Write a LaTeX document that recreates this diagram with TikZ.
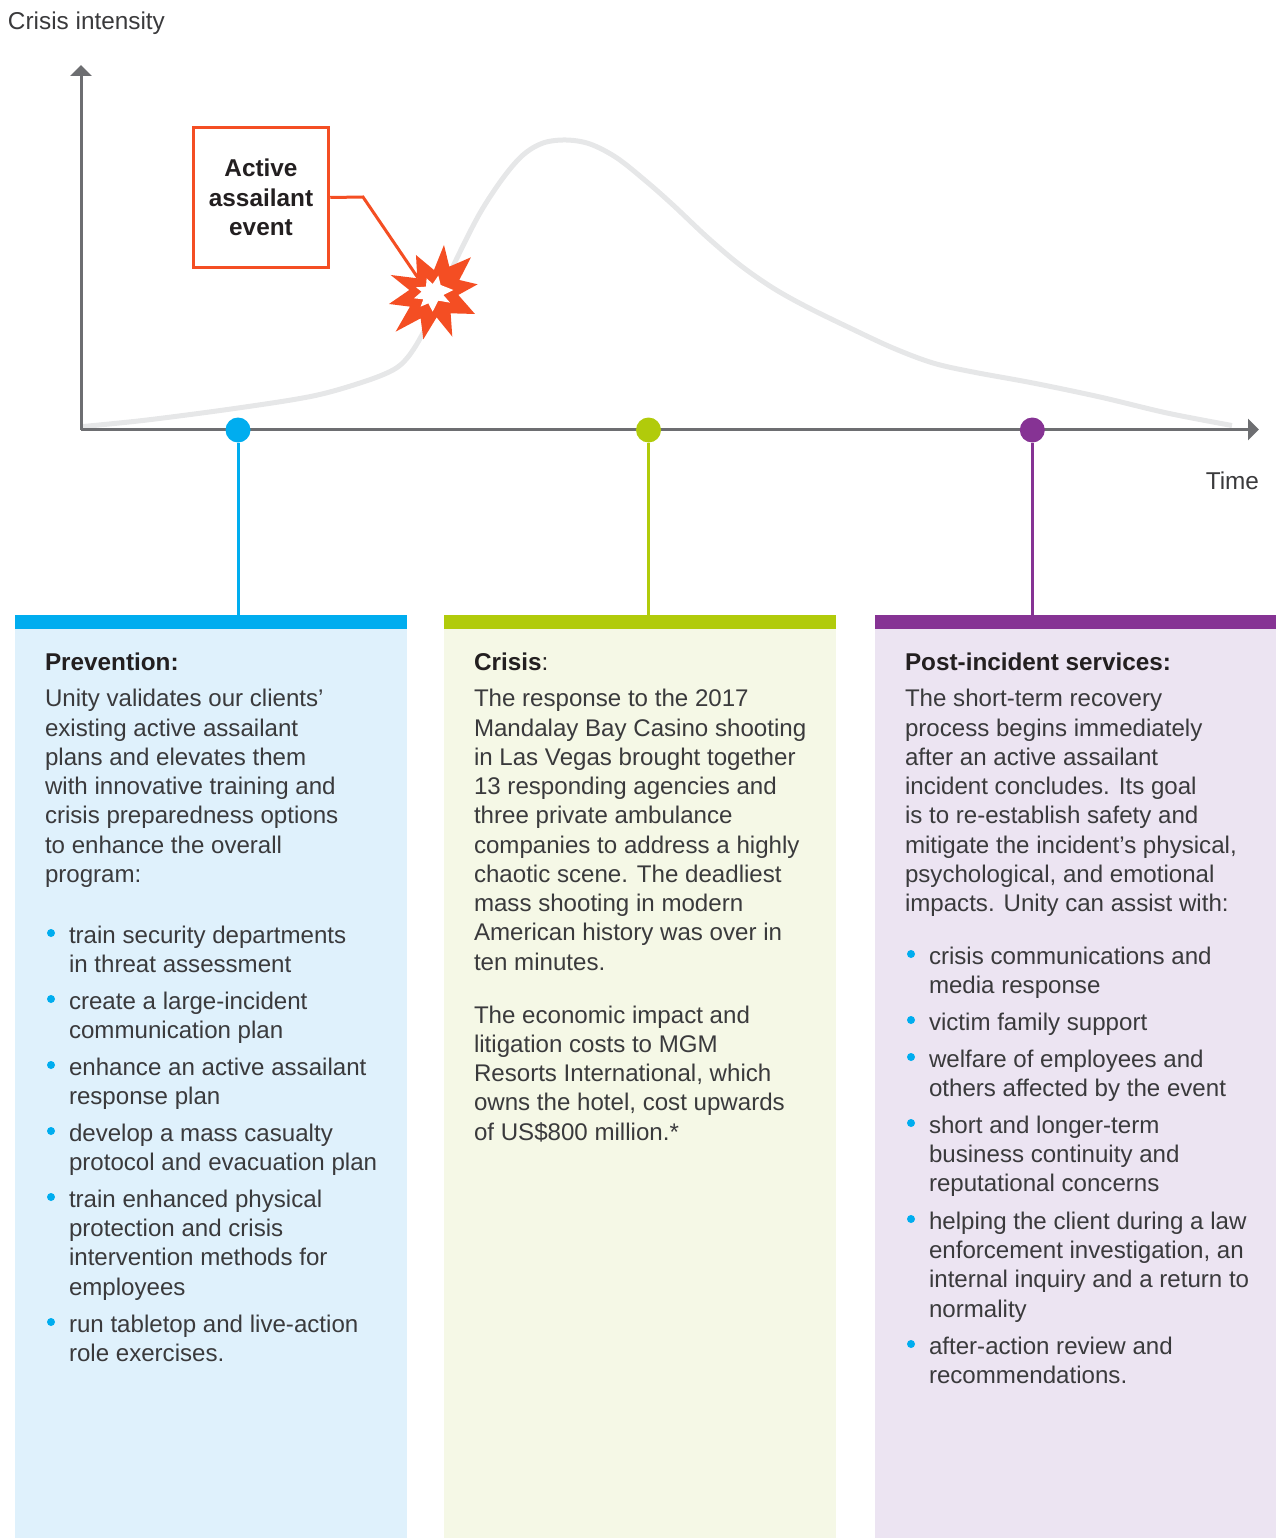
\documentclass[tikz,border=0pt]{standalone}
\usepackage{fontspec}
\setmainfont{Liberation Sans}[Scale=1.0]
\usetikzlibrary{arrows.meta}
\definecolor{cyanc}{HTML}{00ADEF}
\definecolor{greenc}{HTML}{B1CB0B}
\definecolor{purplec}{HTML}{863394}
\definecolor{cyanbg}{HTML}{DFF1FC}
\definecolor{greenbg}{HTML}{F5F8E6}
\definecolor{purplebg}{HTML}{ECE4F2}
\definecolor{orangec}{HTML}{F44E23}
\definecolor{axisc}{HTML}{6D6E71}
\definecolor{curvec}{HTML}{E6E7E8}
\definecolor{bodyc}{HTML}{3A3A3C}
\definecolor{headc}{HTML}{231F20}
\tikzset{
  axisline/.style={draw=axisc,line width=3pt,-{Triangle[length=11pt,width=21pt]}},
  panelbg/.style={inner sep=0pt,outer sep=0pt,anchor=north west,minimum height=910pt},
  panelbar/.style={inner sep=0pt,outer sep=0pt,anchor=north west,minimum height=13.5pt},
  dotmark/.style={circle,inner sep=0pt,outer sep=0pt,minimum size=25pt},
  stem/.style={line width=3pt},
  textblock/.style={inner sep=0pt,outer sep=0pt,anchor=base west,text=bodyc,font=\fontsize{24.1pt}{29.25pt}\selectfont},
  headblock/.style={inner sep=0pt,outer sep=0pt,anchor=base west,text=headc,font=\fontsize{24.3pt}{29.25pt}\selectfont\bfseries},
  bulletmark/.style={circle,fill=cyanc,inner sep=0pt,outer sep=0pt,minimum size=8pt},
  axislabel/.style={inner sep=0pt,outer sep=0pt,text=bodyc,font=\fontsize{24.35pt}{29pt}\selectfont},
}
\newcommand{\textlines}[4]{\node[textblock] (#1) at (#2,#3) {\begin{tabular}[t]{@{}l@{}}#4\end{tabular}};}
\newcommand{\bulletitem}[4]{\node[bulletmark] at (#1-18,#2-10) {};\node[textblock] (#3) at (#1,#2+0.4) {\begin{tabular}[t]{@{}l@{}}#4\end{tabular}};}
\begin{document}
\begin{tikzpicture}[x=1pt,y=-1pt]
\useasboundingbox (0,0) rectangle (1276,1538);
% panels
\node[panelbg,fill=cyanbg,minimum width=392pt] (p1) at (15,628) {};
\node[panelbg,fill=greenbg,minimum width=392pt] (p2) at (444,628) {};
\node[panelbg,fill=purplebg,minimum width=401pt] (p3) at (875,628) {};
\node[panelbar,fill=cyanc,minimum width=392pt] (b1) at (15,615) {};
\node[panelbar,fill=greenc,minimum width=392pt] (b2) at (444,615) {};
\node[panelbar,fill=purplec,minimum width=401pt] (b3) at (875,615) {};
% curve
\draw[curvec,line width=5pt] plot[smooth,tension=0.55] coordinates {(83,426.5) (147,420) (238,408) (313,396) (363,382) (393,370) (408,357) (423,333) (440,295) (457,258) (480,213) (503,178) (523,155) (543,143) (566,140) (590,144) (617,158) (647,182) (673,205) (707,237) (740,265) (773,288) (807,307) (850,328) (893,348) (933,363) (973,372) (1033,383) (1100,397) (1167,413) (1232,425.5)};
% axes
\coordinate (origin) at (81,429.5);
\coordinate (ytip) at (81,65);
\coordinate (xtip) at (1259,429.5);
\draw[axisline] (origin) -- (ytip);
\draw[axisline] (origin) -- (xtip);
\node[axislabel,anchor=base west] (ylab) at (8,29.5) {Crisis intensity};
\node[axislabel,anchor=base east] (xlab) at (1259,489) {Time};
% dots + stems
\node[dotmark,fill=cyanc] (d1) at (238,430) {};
\node[dotmark,fill=greenc] (d2) at (648.5,430) {};
\node[dotmark,fill=purplec] (d3) at (1032.3,430) {};
\draw[stem,cyanc] (d1) -- (d1|-b1.north);
\draw[stem,greenc] (d2) -- (d2|-b2.north);
\draw[stem,purplec] (d3) -- (d3|-b3.north);
% event box
\node[draw=orangec,line width=3pt,fill=white,minimum width=135.5pt,minimum height=140.5pt,inner sep=0pt,align=center,text=headc,font=\fontsize{24.35pt}{29.5pt}\selectfont\bfseries] (ev) at (261,197.5) {Active\\assailant\\event};
\coordinate (kink) at (363,197);
\coordinate (hit) at (418,278);
\draw[orangec,line width=3pt] (ev.east) -- (kink) -- (hit);
% burst
\begin{scope}[shift={(180,110)},x=0.3333pt,y=-0.3333pt]
\fill[orangec] (792,405)--(808,470)--(873,442)--(838,510)--(893,523)--(835,555)--(885,612)--(812,610)--(817,680)--(770,622)--(730,688)--(722,625)--(647,665)--(690,590)--(627,582)--(688,540)--(632,495)--(712,505)--(708,435)--(762,480)--cycle;
\fill[white] (775,497)--(782,525)--(820,540)--(790,555)--(810,578)--(775,572)--(758,605)--(745,580)--(722,590)--(730,568)--(702,565)--(725,545)--(708,532)--(738,530)--(740,505)--(758,522)--cycle;
\end{scope}
% column 1
\node[headblock] (h1) at (45,670) {Prevention:};
\textlines{t1}{45}{706.8}{Unity validates our clients’\\existing active assailant\\plans and elevates them\\with innovative training and\\crisis preparedness options\\to enhance the overall\\program:}
\bulletitem{69}{943}{a1}{train security departments\\in threat assessment}
\bulletitem{69}{1009}{a2}{create a large-incident\\communication plan}
\bulletitem{69}{1075}{a3}{enhance an active assailant\\response plan}
\bulletitem{69}{1141}{a4}{develop a mass casualty\\protocol and evacuation plan}
\bulletitem{69}{1207}{a5}{train enhanced physical\\protection and crisis\\intervention methods for\\employees}
\bulletitem{69}{1332}{a6}{run tabletop and live-action\\role exercises.}
% column 2
\node[headblock] (h2) at (474,670) {Crisis\textmd{:}};
\textlines{t2}{474}{706.8}{The response to the 2017\\Mandalay Bay Casino shooting\\in Las Vegas brought together\\13 responding agencies and\\three private ambulance\\companies to address a highly\\chaotic scene. The deadliest\\mass shooting in modern\\American history was over in\\ten minutes.}
\textlines{t2b}{474}{1023}{The economic impact and\\litigation costs to MGM\\Resorts International, which\\owns the hotel, cost upwards\\of US\$800 million.*}
% column 3
\node[headblock] (h3) at (905,670) {Post-incident services:};
\textlines{t3}{905}{706.8}{The short-term recovery\\process begins immediately\\after an active assailant\\incident concludes. Its goal\\is to re-establish safety and\\mitigate the incident’s physical,\\psychological, and emotional\\impacts. Unity can assist with:}
\bulletitem{929}{964}{c1}{crisis communications and\\media response}
\bulletitem{929}{1030}{c2}{victim family support}
\bulletitem{929}{1067}{c3}{welfare of employees and\\others affected by the event}
\bulletitem{929}{1133}{c4}{short and longer-term\\business continuity and\\reputational concerns}
\bulletitem{929}{1229}{c5}{helping the client during a law\\enforcement investigation, an\\internal inquiry and a return to\\normality}
\bulletitem{929}{1354}{c6}{after-action review and\\recommendations.}
\end{tikzpicture}
\end{document}
